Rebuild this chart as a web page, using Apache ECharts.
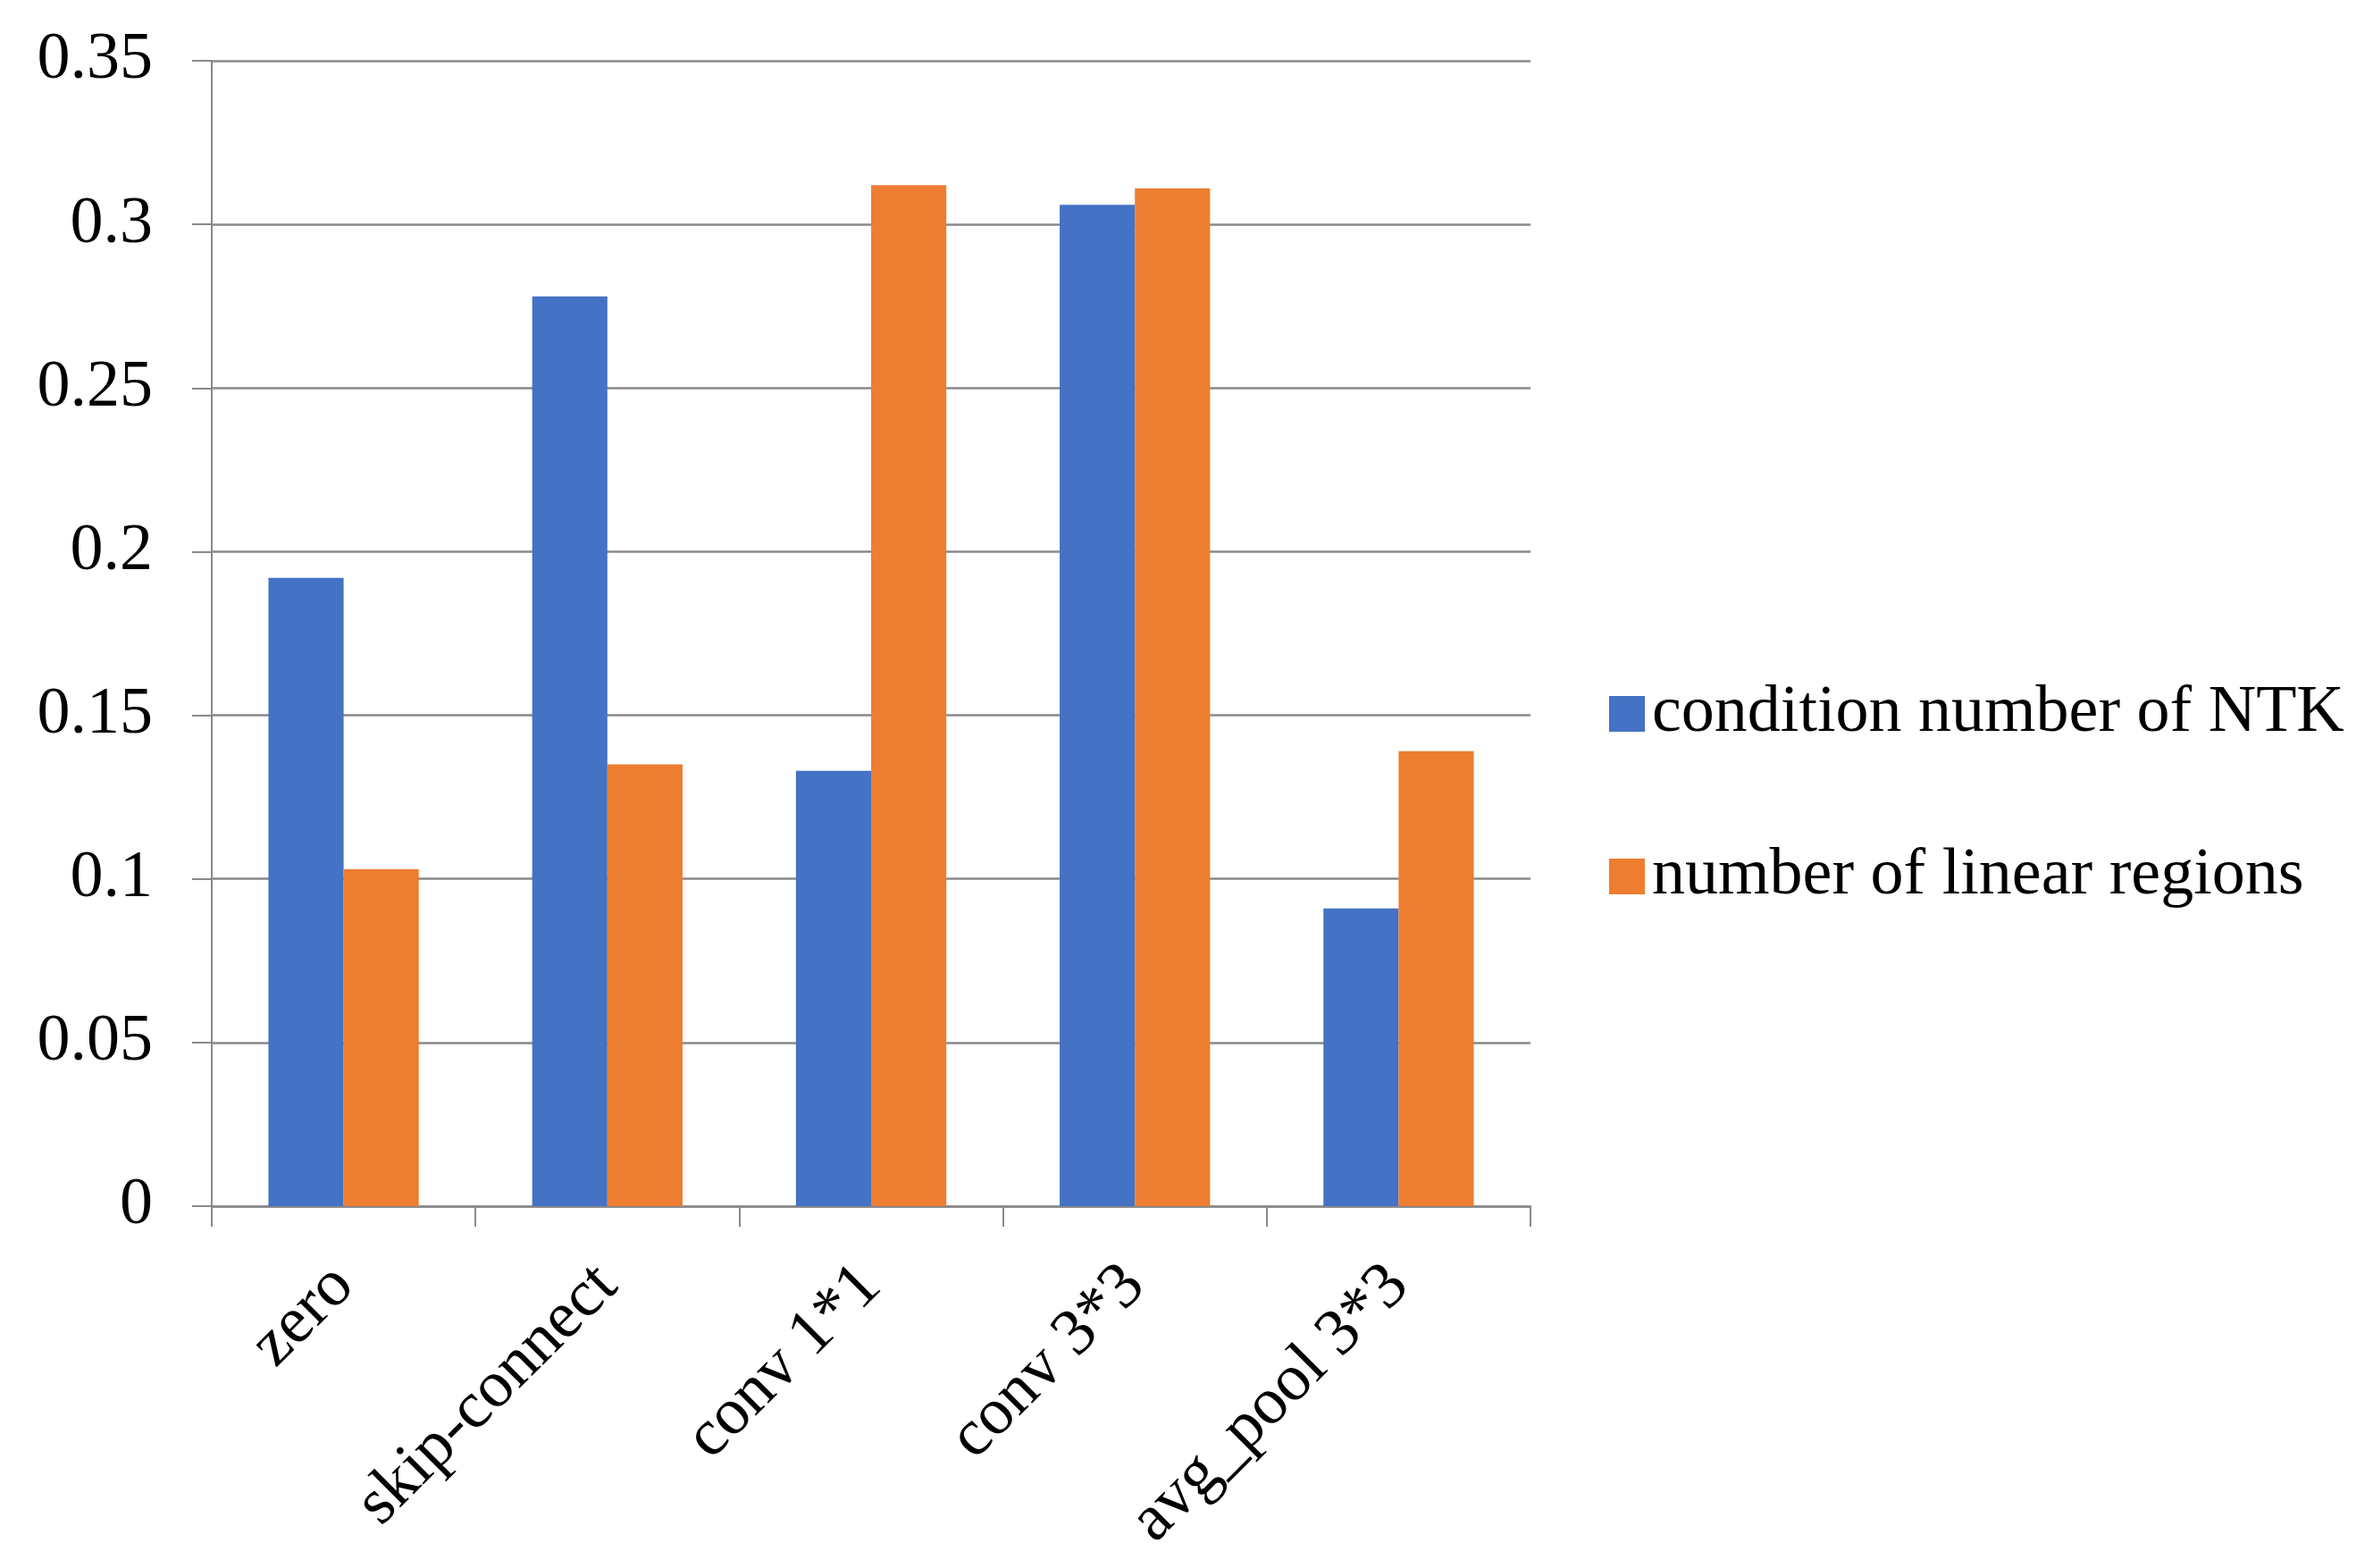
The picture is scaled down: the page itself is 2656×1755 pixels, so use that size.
<!DOCTYPE html>
<html>
<head>
<meta charset="utf-8">
<script src="https://cdn.jsdelivr.net/npm/echarts@6/dist/echarts.min.js"></script>
<style>html,body{margin:0;padding:0;background:#fff}#c{width:2656px;height:1755px}</style>
</head>
<body>
<div id="c"></div>
<script>
var categories = ['zero', 'skip-connect', 'conv 1*1', 'conv 3*3', 'avg_pool 3*3'];
var seriesNames = ['condition number of NTK', 'number of linear regions'];
var ntkValues = [0.192, 0.278, 0.133, 0.306, 0.091];
var linearRegionValues = [0.103, 0.135, 0.312, 0.311, 0.139];

var FONT = '"Liberation Serif", "Times New Roman", serif';
var GRAY = '#898989';
var chart = echarts.init(document.getElementById('c'));
chart.setOption({
  animation: false,
  backgroundColor: '#fff',
  textStyle: { fontFamily: FONT },
  grid: { left: 237, right: 943, top: 68, bottom: 405, containLabel: false },
  legend: {
    orient: 'vertical',
    left: 1796,
    top: 757,
    itemWidth: 40,
    itemHeight: 40,
    itemGap: 108,
    icon: 'rect',
    textStyle: { fontFamily: FONT, fontSize: 74, color: '#000', lineHeight: 74, padding: [0, 0, 0, 3] },
    data: seriesNames
  },
  xAxis: {
    type: 'category',
    data: categories,
    axisLine: { show: true, lineStyle: { color: GRAY, width: 2.5 } },
    axisTick: { show: true, length: 23, lineStyle: { color: GRAY, width: 2 } },
    axisLabel: { rotate: 45, fontFamily: FONT, fontSize: 74, color: '#000', margin: 78 }
  },
  yAxis: {
    type: 'value',
    min: 0,
    max: 0.35,
    interval: 0.05,
    axisLine: { show: true, lineStyle: { color: GRAY, width: 2 } },
    axisTick: { show: true, length: 22, lineStyle: { color: GRAY, width: 2 } },
    splitLine: { show: true, lineStyle: { color: GRAY, width: 2.5 } },
    axisLabel: { fontFamily: FONT, fontSize: 74, color: '#000', margin: 66 }
  },
  series: [
    { name: seriesNames[0], type: 'bar', data: ntkValues, barGap: '0%', barCategoryGap: '43%', itemStyle: { color: '#4472C4' } },
    { name: seriesNames[1], type: 'bar', data: linearRegionValues, barGap: '0%', barCategoryGap: '43%', itemStyle: { color: '#ED7D31' } }
  ]
});
</script>
</body>
</html>
